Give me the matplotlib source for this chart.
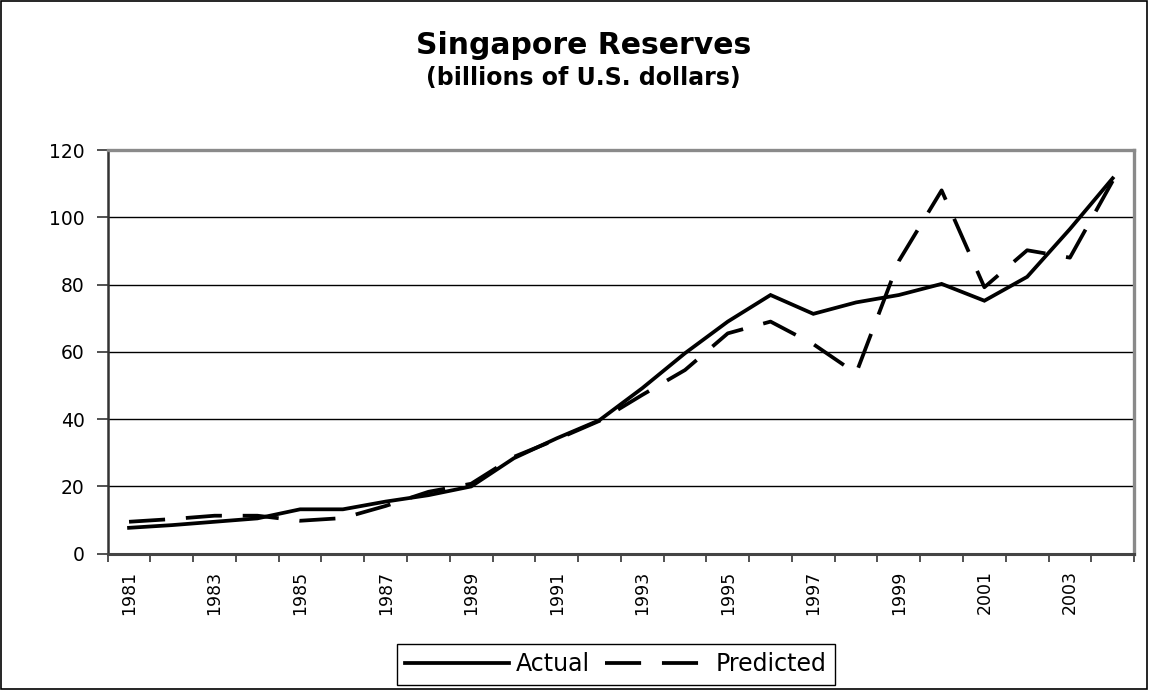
import matplotlib.pyplot as plt
from matplotlib.patches import Rectangle

years = list(range(1981, 2005))
actual = [7.7, 8.5, 9.5, 10.5, 13.2, 13.2, 15.5, 17.4, 20.0, 28.4, 34.3, 39.7,
          49.2, 59.6, 69.0, 76.9, 71.3, 74.7, 76.9, 80.2, 75.2, 82.3, 96.5, 111.6]
predicted = [9.5, 10.3, 11.3, 11.3, 9.8, 10.6, 14.2, 18.4, 20.8, 28.8, 34.0, 39.5,
             47.2, 54.6, 65.5, 69.0, 62.3, 53.6, 87.0, 108.0, 79.2, 90.2, 88.0, 110.8]
yticks = [0, 20, 40, 60, 80, 100, 120]

plt.rcParams['font.family'] = ['DejaVu Sans']
plt.rcParams['lines.scale_dashes'] = False

fig = plt.figure(figsize=(11.49, 6.9), dpi=100)
ax = fig.add_axes([0.0937, 0.1975, 0.987 - 0.0937, 0.7826 - 0.1975])

x = list(range(len(years)))
ax.plot(x, actual, color='black', lw=2.7, label='Actual', solid_joinstyle='miter')
ax.plot(x, predicted, color='black', lw=2.7, dashes=(26, 15), label='Predicted')

ax.set_xlim(-0.5, len(years) - 0.5)
ax.set_ylim(0, 120)

# ticks between categories, labels at every other category centre
ax.set_xticks([i - 0.5 for i in range(len(years) + 1)])
ax.set_xticklabels([])
ax.set_xticks(x[::2], minor=True)
ax.set_xticklabels([str(y) for y in years[::2]], minor=True, rotation=90,
                   fontsize=12.5)
ax.tick_params(axis='x', which='major', direction='out', length=6, width=1.2,
               color='#333333')
ax.tick_params(axis='x', which='minor', length=0, pad=12)

ax.set_yticks(yticks)
ax.set_yticklabels([str(v) for v in yticks], fontsize=13.5)
ax.tick_params(axis='y', direction='out', length=8, width=1.2, color='#333333',
               pad=8.5)

ax.grid(axis='y', color='black', lw=1)
ax.set_axisbelow(True)

ax.spines['left'].set_color('#333333')
ax.spines['left'].set_linewidth(1.8)
ax.spines['bottom'].set_color('#444444')
ax.spines['bottom'].set_linewidth(2.2)
ax.spines['top'].set_color('#8a8a8a')
ax.spines['top'].set_linewidth(2.4)
ax.spines['right'].set_color('#8a8a8a')
ax.spines['right'].set_linewidth(2.4)

fig.text(0.508, 0.9217, 'Singapore Reserves', ha='center', va='baseline',
         fontsize=21.5, fontweight='bold')
fig.text(0.508, 0.8774, '(billions of U.S. dollars)', ha='center', va='baseline',
         fontsize=17, fontweight='bold')

leg = fig.legend(loc='center', bbox_to_anchor=(0.536, 0.037), ncol=2,
                 fontsize=17, handlelength=4.4, handletextpad=0.3,
                 columnspacing=0.6, borderpad=0.35, fancybox=False,
                 framealpha=1, edgecolor='black')
leg.get_frame().set_linewidth(1.0)

fig.patches.append(Rectangle((0.001, 0.001), 0.997, 0.997, transform=fig.transFigure,
                             fill=False, edgecolor='black', lw=1.2))

fig.savefig('out.png', dpi=100)
